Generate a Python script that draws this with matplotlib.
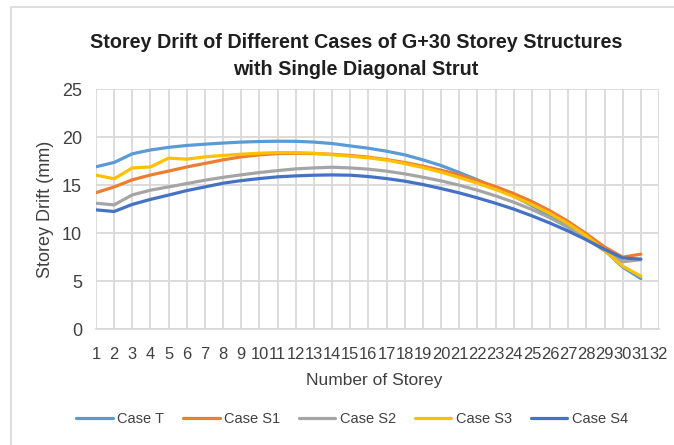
import matplotlib
matplotlib.use('Agg')
import matplotlib.pyplot as plt
from matplotlib.patches import Rectangle

# Data (storey 1..31, axis runs to 32)
storeys = list(range(1, 32))
case_t = [16.9, 17.35, 18.25, 18.65, 18.92, 19.12, 19.25, 19.37, 19.47, 19.53, 19.56, 19.55, 19.47, 19.32,
          19.07, 18.83, 18.52, 18.14, 17.62, 17.03, 16.3, 15.54, 14.7, 13.84, 12.86, 11.82, 10.68, 9.45,
          8.2, 6.45, 5.25]
case_s1 = [14.2, 14.8, 15.54, 16.04, 16.45, 16.88, 17.25, 17.62, 17.93, 18.14, 18.27, 18.3, 18.27, 18.2,
           18.07, 17.9, 17.65, 17.34, 16.96, 16.54, 16.06, 15.46, 14.84, 14.11, 13.28, 12.31, 11.2, 9.92,
           8.55, 7.48, 7.8]
case_s2 = [13.1, 12.93, 13.97, 14.46, 14.8, 15.15, 15.5, 15.8, 16.06, 16.3, 16.5, 16.68, 16.78, 16.85,
           16.78, 16.65, 16.44, 16.16, 15.81, 15.43, 14.98, 14.46, 13.87, 13.21, 12.45, 11.58, 10.57, 9.4,
           8.15, 7.0, 7.22]
case_s3 = [16.03, 15.65, 16.78, 16.88, 17.8, 17.69, 17.93, 18.07, 18.21, 18.31, 18.38, 18.38, 18.31, 18.15,
           18.0, 17.83, 17.59, 17.23, 16.82, 16.34, 15.78, 15.19, 14.53, 13.8, 12.97, 12.03, 10.96, 9.71,
           8.2, 6.55, 5.5]
case_s4 = [12.41, 12.24, 12.98, 13.5, 13.95, 14.42, 14.8, 15.19, 15.46, 15.67, 15.85, 15.95, 16.02, 16.05,
           16.02, 15.88, 15.67, 15.4, 15.05, 14.63, 14.18, 13.66, 13.1, 12.49, 11.79, 11.03, 10.2, 9.29,
           8.3, 7.4, 7.28]

series = [('Case T', case_t, '#5B9BD5'),
          ('Case S1', case_s1, '#ED7D31'),
          ('Case S2', case_s2, '#A5A5A5'),
          ('Case S3', case_s3, '#FFC000'),
          ('Case S4', case_s4, '#4472C4')]

x_ticks = list(range(1, 33))
y_ticks = [0, 5, 10, 15, 20, 25]

plt.rcParams['font.family'] = ['Liberation Sans', 'DejaVu Sans']
W, H = 674, 445

fig = plt.figure(figsize=(W/100, H/100), dpi=100)
# light chart-area border, like the Excel export
fig.patches.append(Rectangle((11/W, -0.1), 1.2, 1 - 7/H + 0.1, transform=fig.transFigure,
                             fill=False, edgecolor='#D9D9D9', linewidth=1.2))
ax = fig.add_axes([96/W, 1 - 329/H, (659 - 96)/W, (329 - 89)/H])

for label, vals, color in series:
    ax.plot(storeys, vals, color=color, linewidth=2.3, label=label, solid_capstyle='round')

ax.set_xlim(1, 32)
ax.set_ylim(0, 25)
ax.set_xticks(x_ticks)
ax.set_yticks(y_ticks)
ax.tick_params(axis='x', length=0, labelsize=11.9, colors='#404040', pad=13)
ax.tick_params(axis='y', length=0, labelsize=13, colors='#404040', pad=10)
ax.grid(True, color='#D9D9D9', linewidth=1.3)
ax.set_axisbelow(True)
for s in ['top', 'right', 'left']:
    ax.spines[s].set_visible(False)
ax.spines['bottom'].set_color('#D9D9D9')
ax.spines['bottom'].set_linewidth(1.3)

fig.text(374/W, 1 - 381/H, 'Number of Storey', ha='center', va='center', fontsize=12.5, color='#404040')
fig.text(46/W, 1 - 209/H, 'Storey Drift (mm)', ha='center', va='center', rotation=90,
         fontsize=13, color='#404040')

fig.text(356/W, 1 - 43/H, 'Storey Drift of Different Cases of G+30 Storey Structures',
         ha='center', va='center', fontsize=14.2, fontweight='bold', color='#1f1f1f')
fig.text(356/W, 1 - 69/H, 'with Single Diagonal Strut',
         ha='center', va='center', fontsize=14.2, fontweight='bold', color='#1f1f1f')

fig.legend(loc='center', bbox_to_anchor=(352/W, 1 - 419/H), ncol=5, frameon=False,
           fontsize=10.5, handlelength=2.5, columnspacing=1.3, handletextpad=0.3,
           labelcolor='#404040')

fig.savefig('out.png', dpi=100)
